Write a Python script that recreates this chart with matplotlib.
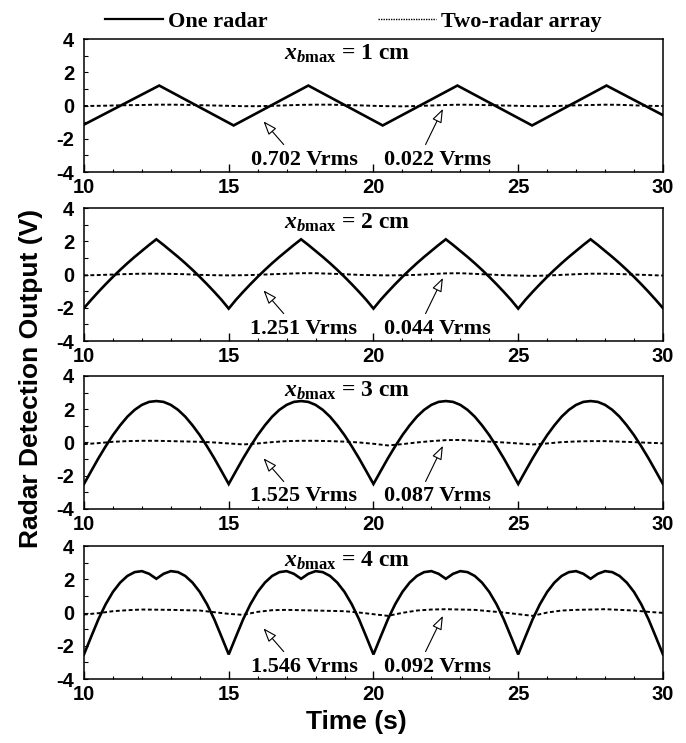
import numpy as np
import matplotlib
matplotlib.use('Agg')
from matplotlib import pyplot as plt
from matplotlib.lines import Line2D

plt.rcParams['mathtext.fontset'] = 'custom'
plt.rcParams['mathtext.rm'] = 'Liberation Serif:bold'
plt.rcParams['mathtext.it'] = 'Liberation Serif:italic:bold'
plt.rcParams['mathtext.bf'] = 'Liberation Serif:bold'
plt.rcParams['axes.unicode_minus'] = False

# ---- data ----
xb_max = ['1', '2', '3', '4']
one_rms = ['0.702 Vrms', '1.251 Vrms', '1.525 Vrms', '1.546 Vrms']
two_rms = ['0.022 Vrms', '0.044 Vrms', '0.087 Vrms', '0.092 Vrms']

# panel 1: triangle wave, corner points
t_one1 = [10, 12.6, 15.17, 17.75, 20.32, 22.9, 25.48, 28.05, 30]
v_one1 = [-1.15, 1.2, -1.2, 1.2, -1.2, 1.2, -1.2, 1.2, -0.58]

# panels 2-4: sampled every 0.25 s from 10 to 30 s
t_one = np.arange(10, 30.001, 0.25)
v_one2 = [-2.02, -1.52, -1.04, -0.58, -0.14, 0.28, 0.68, 1.06, 1.42, 1.78, 2.12, 1.78, 1.42, 1.06, 0.68, 0.28, -0.14, -0.58, -1.04, -1.52,
          -2.05, -1.52, -1.04, -0.58, -0.14, 0.28, 0.68, 1.06, 1.42, 1.78, 2.12, 1.78, 1.42, 1.06, 0.68, 0.28, -0.14, -0.58, -1.04, -1.52,
          -2.05, -1.52, -1.04, -0.58, -0.14, 0.28, 0.68, 1.06, 1.42, 1.78, 2.12, 1.78, 1.42, 1.06, 0.68, 0.28, -0.14, -0.58, -1.04, -1.52,
          -2.05, -1.52, -1.04, -0.58, -0.14, 0.28, 0.68, 1.06, 1.42, 1.78, 2.12, 1.78, 1.42, 1.06, 0.68, 0.28, -0.14, -0.58, -1.04, -1.52,
          -2.02]
v_one3 = [-2.5, -1.72, -0.95, -0.23, 0.44, 1.03, 1.55, 1.96, 2.26, 2.44, 2.49, 2.44, 2.26, 1.96, 1.55, 1.03, 0.44, -0.23, -0.95, -1.72,
          -2.5, -1.72, -0.95, -0.23, 0.44, 1.03, 1.55, 1.96, 2.26, 2.44, 2.49, 2.44, 2.26, 1.96, 1.55, 1.03, 0.44, -0.23, -0.95, -1.72,
          -2.5, -1.72, -0.95, -0.23, 0.44, 1.03, 1.55, 1.96, 2.26, 2.44, 2.49, 2.44, 2.26, 1.96, 1.55, 1.03, 0.44, -0.23, -0.95, -1.72,
          -2.5, -1.72, -0.95, -0.23, 0.44, 1.03, 1.55, 1.96, 2.26, 2.44, 2.49, 2.44, 2.26, 1.96, 1.55, 1.03, 0.44, -0.23, -0.95, -1.72,
          -2.5]
v_one4 = [-2.52, -1.45, -0.4, 0.5, 1.24, 1.8, 2.2, 2.43, 2.49, 2.33, 2.03, 2.33, 2.49, 2.43, 2.2, 1.8, 1.24, 0.5, -0.4, -1.45,
          -2.52, -1.45, -0.4, 0.5, 1.24, 1.8, 2.2, 2.43, 2.49, 2.33, 2.03, 2.33, 2.49, 2.43, 2.2, 1.8, 1.24, 0.5, -0.4, -1.45,
          -2.52, -1.45, -0.4, 0.5, 1.24, 1.8, 2.2, 2.43, 2.49, 2.33, 2.03, 2.33, 2.49, 2.43, 2.2, 1.8, 1.24, 0.5, -0.4, -1.45,
          -2.52, -1.45, -0.4, 0.5, 1.24, 1.8, 2.2, 2.43, 2.49, 2.33, 2.03, 2.33, 2.49, 2.43, 2.2, 1.8, 1.24, 0.5, -0.4, -1.45,
          -2.52]

# two-radar array, every 0.5 s from 10 to 30 s
t_two = np.arange(10, 30.001, 0.5)
v_two1 = [-0.03, -0.02, 0.0, 0.02, 0.03, 0.05, 0.05, 0.04, 0.02, 0.0, -0.02, -0.04, -0.04, -0.02, 0.01, 0.04, 0.05, 0.05, 0.03, 0.01,
          -0.02, -0.04, -0.05, -0.03, 0.0, 0.03, 0.05, 0.04, 0.02, 0.0, -0.02, -0.04, -0.04, -0.02, 0.01, 0.03, 0.05, 0.04, 0.01, -0.02,
          -0.03]
v_two2 = [-0.05, -0.03, 0.0, 0.03, 0.05, 0.05, 0.04, 0.02, -0.02, -0.04, -0.05, -0.04, -0.02, 0.02, 0.05, 0.08, 0.08, 0.05, 0.02, -0.02,
          -0.04, -0.05, -0.04, -0.02, 0.03, 0.07, 0.08, 0.04, 0.0, -0.04, -0.06, -0.08, -0.06, -0.02, 0.02, 0.05, 0.05, 0.03, 0.0, -0.03,
          -0.06]
v_two3 = [-0.1, -0.04, 0.04, 0.08, 0.1, 0.1, 0.08, 0.06, 0.04, 0.0, -0.06, -0.12, -0.06, 0.02, 0.08, 0.1, 0.1, 0.08, 0.05, 0.0,
          -0.08, -0.18, -0.1, 0.0, 0.08, 0.14, 0.15, 0.1, 0.05, 0.0, -0.06, -0.12, -0.06, 0.02, 0.06, 0.08, 0.08, 0.05, 0.02, -0.02,
          -0.05]
v_two4 = [-0.12, -0.04, 0.08, 0.14, 0.18, 0.17, 0.16, 0.14, 0.12, 0.02, -0.08, -0.14, 0.04, 0.14, 0.16, 0.14, 0.12, 0.1, 0.08, 0.0,
          -0.1, -0.2, -0.02, 0.12, 0.18, 0.2, 0.18, 0.16, 0.08, 0.0, -0.1, -0.2, 0.0, 0.12, 0.16, 0.18, 0.2, 0.16, 0.12, 0.04,
          -0.02]

one_series = [(t_one1, v_one1), (t_one, v_one2), (t_one, v_one3), (t_one, v_one4)]
two_series = [v_two1, v_two2, v_two3, v_two4]

serif = 'Liberation Serif'
sans = 'Liberation Sans'

fig = plt.figure(figsize=(6.86, 7.43), dpi=100)

bottoms = [0.7685, 0.541, 0.315, 0.0861]
for i in range(4):
    ax = fig.add_axes([0.1224, bottoms[i], 0.844, 0.179])
    tt, vv = one_series[i]
    ax.plot(tt, vv, color='black', lw=1.9, solid_joinstyle='miter')
    ax.plot(t_two, two_series[i], color='black', lw=1.4, ls=(0, (2, 1.3)))

    ax.set_xlim(10, 30)
    ax.set_ylim(-4, 4)
    ax.set_xticks([10, 15, 20, 25, 30])
    ax.set_xticks(np.arange(10, 31, 1), minor=True)
    ax.set_yticks([-4, -2, 0, 2, 4])
    ax.set_yticks([-3, -1, 1, 3], minor=True)
    ax.tick_params(axis='x', which='major', direction='in', length=6, width=1, pad=4.5)
    ax.tick_params(axis='x', which='minor', direction='in', length=2.5, width=0.8)
    ax.tick_params(axis='y', which='both', direction='in', length=3, width=0.8, pad=7)
    for lab in ax.get_xticklabels() + ax.get_yticklabels():
        lab.set_fontfamily(sans)
        lab.set_fontweight('bold')
        lab.set_fontsize(14.5)
    for sp in ax.spines.values():
        sp.set_linewidth(1.1)

    ax.text(0.455, 0.89, r'$x_{b\mathrm{max}}$' + ' = ' + xb_max[i] + ' cm', transform=ax.transAxes,
            ha='center', va='center', fontsize=17, family=serif, fontweight='bold')

    arrow = dict(arrowstyle='-|>,head_length=0.6,head_width=0.22', fc='white', ec='black',
                 lw=0.8, mutation_scale=14, shrinkA=0, shrinkB=0)
    ax.annotate('', xy=(16.2, -0.95), xytext=(16.9, -2.35), arrowprops=arrow)
    ax.annotate('', xy=(22.4, -0.2), xytext=(21.8, -2.35), arrowprops=arrow)
    ax.text(17.6, -3.25, one_rms[i], ha='center', va='center', fontsize=16,
            family=serif, fontweight='bold')
    ax.text(22.2, -3.25, two_rms[i], ha='center', va='center', fontsize=16,
            family=serif, fontweight='bold')

handles = [Line2D([], [], color='black', lw=1.6),
           Line2D([], [], color='black', lw=1.0, ls=(0, (1, 0.8)))]
fig.legend(handles, ['One radar', 'Two-radar array'], loc='upper center',
           bbox_to_anchor=(0.515, 1.012), ncol=2, frameon=False, handlelength=2.6,
           handletextpad=0.2, columnspacing=5.0,
           prop={'family': serif, 'weight': 'bold', 'size': 16})

fig.text(0.045, 0.491, 'Radar Detection Output (V)', rotation=90, ha='center', va='center',
         fontsize=19, family=sans, fontweight='bold')
fig.text(0.52, 0.028, 'Time (s)', ha='center', va='center',
         fontsize=19, family=sans, fontweight='bold')

plt.savefig('out.png', dpi=100)
